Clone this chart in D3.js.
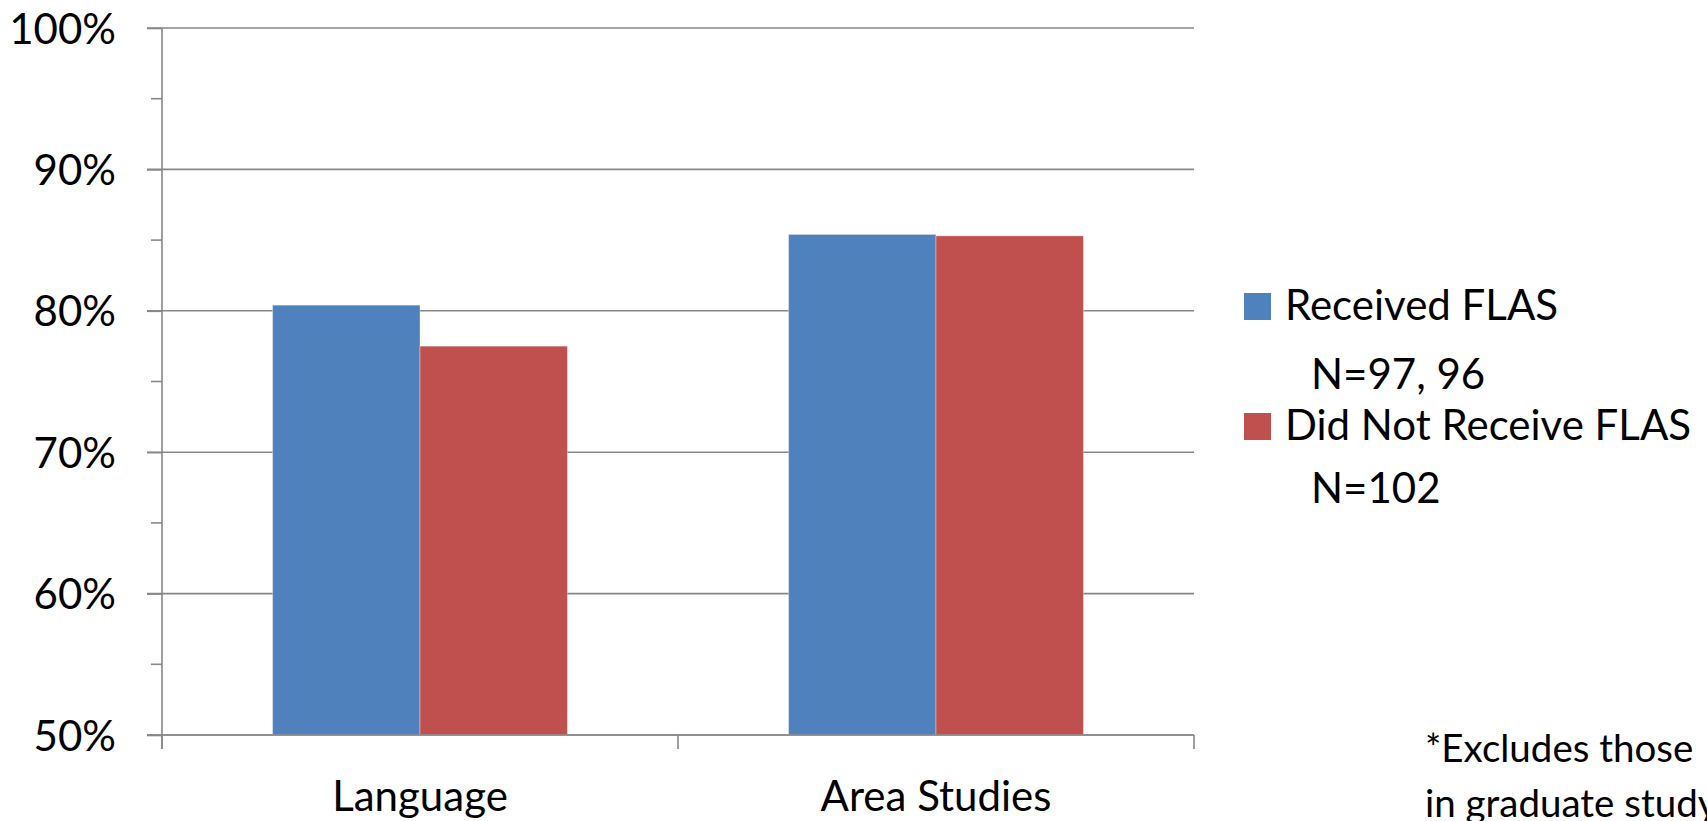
<!DOCTYPE html>
<html>
<head>
<meta charset="utf-8">
<script src="https://cdn.jsdelivr.net/npm/d3@7"></script>
<style>
  html, body { margin: 0; padding: 0; background: #fff; overflow: hidden; }
  svg { display: block; font-family: Lato, "Open Sans", sans-serif; }
</style>
</head>
<body>
<svg id="chart" width="1707" height="821"></svg>
<script>
// Share of respondents, by field of study
const categories = ["Language", "Area Studies"];
const seriesNames = ["Received FLAS", "Did Not Receive FLAS"];
const receivedFLAS = [0.804, 0.854];
const didNotReceiveFLAS = [0.775, 0.853];
const legendNotes = ["N=97, 96", "N=102"];
const yTicks = [0.5, 0.6, 0.7, 0.8, 0.9, 1.0];
const yMinorTicks = [0.55, 0.65, 0.75, 0.85, 0.95];
const footnoteLines = ["*Excludes those", "in graduate study"];

const colors = ["#4F81BD", "#C0504D"];
const gridColor = "#888888";
const fontMain = 42;
const fontNote = 38.5;

const svg = d3.select("#chart");
const plot = { left: 162, right: 1194, top: 28, bottom: 735 };

const x0 = d3.scaleBand().domain(categories).range([plot.left, plot.right]).padding(0);
const x1 = d3.scaleBand().domain(seriesNames).range([0, x0.bandwidth()])
  .paddingInner(0).paddingOuter(0.75);
const y = d3.scaleLinear().domain([0.5, 1.0]).range([plot.bottom, plot.top]);

// horizontal gridlines (extend left as major ticks)
svg.append("g").selectAll("line").data(yTicks).join("line")
  .attr("x1", plot.left - 15).attr("x2", plot.right)
  .attr("y1", d => y(d)).attr("y2", d => y(d))
  .attr("stroke", gridColor).attr("stroke-width", 1.6);

// value axis with labels and minor ticks
const yAxis = svg.append("g").attr("transform", `translate(${plot.left},0)`)
  .call(d3.axisLeft(y).tickValues(yTicks).tickFormat(d3.format(".0%"))
    .tickSize(15).tickPadding(31));
yAxis.select(".domain").remove();
yAxis.selectAll(".tick line").attr("stroke", gridColor).attr("stroke-width", 1.6);
yAxis.selectAll(".tick text").attr("font-size", fontMain).attr("fill", "#000")
  .attr("font-family", "Lato, sans-serif").attr("dy", "0.36em");

svg.append("g").selectAll("line").data(yMinorTicks).join("line")
  .attr("x1", plot.left - 11).attr("x2", plot.left)
  .attr("y1", d => y(d)).attr("y2", d => y(d))
  .attr("stroke", gridColor).attr("stroke-width", 1.6);

svg.append("line")
  .attr("x1", plot.left).attr("x2", plot.left)
  .attr("y1", plot.top).attr("y2", plot.bottom + 14)
  .attr("stroke", gridColor).attr("stroke-width", 1.6);

// bars
const rows = categories.map((c, i) => ({
  category: c,
  values: [receivedFLAS[i], didNotReceiveFLAS[i]]
}));
const groups = svg.append("g").selectAll("g").data(rows).join("g")
  .attr("transform", d => `translate(${x0(d.category)},0)`);
groups.selectAll("rect")
  .data(d => d.values.map((v, j) => ({ name: seriesNames[j], value: v, j })))
  .join("rect")
  .attr("x", d => x1(d.name))
  .attr("width", x1.bandwidth())
  .attr("y", d => y(d.value))
  .attr("height", d => y(0.5) - y(d.value))
  .attr("fill", d => colors[d.j])
  .attr("stroke", "rgba(255,255,255,0.35)")
  .attr("stroke-width", 1);

// category axis
const xAxisBoundaries = [plot.left, plot.left + x0.step(), plot.right];
svg.append("line")
  .attr("x1", plot.left - 15).attr("x2", plot.right)
  .attr("y1", plot.bottom).attr("y2", plot.bottom)
  .attr("stroke", gridColor).attr("stroke-width", 1.6);
svg.append("g").selectAll("line").data(xAxisBoundaries).join("line")
  .attr("x1", d => d).attr("x2", d => d)
  .attr("y1", plot.bottom).attr("y2", plot.bottom + 14)
  .attr("stroke", gridColor).attr("stroke-width", 1.6);
svg.append("g").selectAll("text").data(categories).join("text")
  .attr("x", d => x0(d) + x0.bandwidth() / 2)
  .attr("y", 811)
  .attr("text-anchor", "middle")
  .attr("font-size", fontMain)
  .attr("fill", "#000")
  .text(d => d);

// legend
const legendRows = [320, 440];
const legend = svg.append("g").selectAll("g").data(seriesNames).join("g")
  .attr("transform", (d, i) => `translate(1244,${legendRows[i]})`);
legend.append("rect")
  .attr("x", 0).attr("y", -27).attr("width", 27).attr("height", 27)
  .attr("fill", (d, i) => colors[i]);
legend.append("text")
  .attr("x", 41).attr("y", 0)
  .attr("font-size", fontMain).attr("fill", "#000")
  .text(d => d);
legend.append("text")
  .attr("x", 67).attr("y", (d, i) => i === 0 ? 69 : 63)
  .attr("font-size", fontMain).attr("fill", "#000")
  .text((d, i) => legendNotes[i]);

// footnote
svg.append("text")
  .attr("x", 1425).attr("y", 762)
  .attr("font-size", fontNote).attr("fill", "#000")
  .selectAll("tspan").data(footnoteLines).join("tspan")
  .attr("x", 1425).attr("dy", (d, i) => i === 0 ? 0 : 55)
  .text(d => d);
</script>
</body>
</html>
